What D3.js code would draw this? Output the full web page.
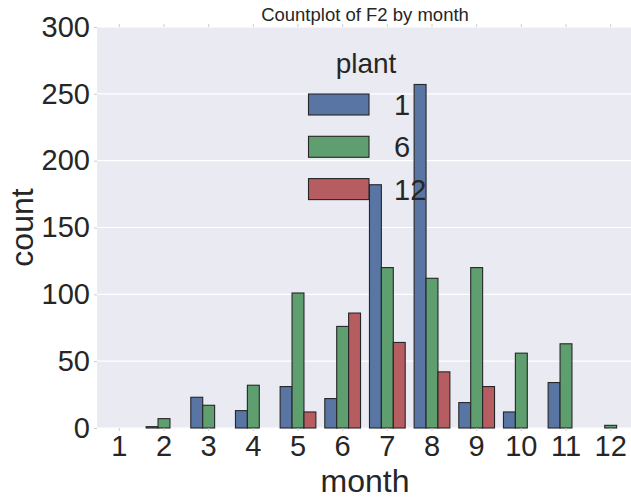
<!DOCTYPE html>
<html>
<head>
<meta charset="utf-8">
<script src="https://cdn.jsdelivr.net/npm/d3@7"></script>
<style>
  body { margin: 0; background: #fff; }
  svg { display: block; font-family: Arial, "Liberation Sans", sans-serif; }
</style>
</head>
<body>
<div id="chart-container"></div>
<script>
// Chart data
var months = ["1", "2", "3", "4", "5", "6", "7", "8", "9", "10", "11", "12"];
var plants = ["1", "6", "12"];
var plant1 = [0, 1, 23, 13, 31, 22, 182, 257, 19, 12, 34, 0];
var plant6 = [0, 7, 17, 32, 101, 76, 120, 112, 120, 56, 63, 2];
var plant12 = [0, 0, 0, 0, 12, 86, 64, 42, 31, 0, 0, 0];
var yTicks = [0, 50, 100, 150, 200, 250, 300];

var colors = ["#5975a4", "#5f9e6e", "#b55d60"];
var series = [plant1, plant6, plant12];

var width = 631, height = 499;
var plotLeft = 97, plotRight = 633, plotTop = 27, plotBottom = 428;

var svg = d3.select("#chart-container").append("svg")
  .attr("width", width)
  .attr("height", height);

// Scales
var x = d3.scaleBand().domain(months).range([plotLeft, plotRight]).paddingInner(0.2).paddingOuter(0.1);
var xInner = d3.scaleBand().domain(plants).range([0, x.bandwidth()]);
var y = d3.scaleLinear().domain([0, 300]).range([plotBottom, plotTop]);

// Background
svg.append("rect")
  .attr("x", plotLeft).attr("y", plotTop)
  .attr("width", plotRight - plotLeft).attr("height", plotBottom - plotTop)
  .attr("fill", "#eaeaf2");

// Grid lines
svg.append("g").selectAll("line")
  .data(yTicks)
  .join("line")
  .attr("x1", plotLeft).attr("x2", plotRight)
  .attr("y1", d => y(d)).attr("y2", d => y(d))
  .attr("stroke", "#fff").attr("stroke-width", 1.2);

// Bars
var barData = [];
months.forEach((m, i) => {
  plants.forEach((p, j) => {
    if (series[j][i] > 0) barData.push({ month: m, plant: p, value: series[j][i], color: colors[j] });
  });
});

svg.append("g").selectAll("rect")
  .data(barData)
  .join("rect")
  .attr("x", d => x(d.month) + xInner(d.plant))
  .attr("y", d => y(d.value))
  .attr("width", xInner.bandwidth())
  .attr("height", d => y(0) - y(d.value))
  .attr("fill", d => d.color)
  .attr("stroke", "#262626")
  .attr("stroke-width", 1.1);

// Y axis
var yAxis = d3.axisLeft(y).tickValues(yTicks).tickSize(3).tickPadding(4);
var gy = svg.append("g").attr("transform", `translate(${plotLeft},0)`).call(yAxis);
gy.select(".domain").remove();
gy.selectAll(".tick line").attr("stroke", "#cccccc");
gy.selectAll(".tick text").attr("font-size", 29).attr("fill", "#262626")
  .attr("font-family", "Arial, 'Liberation Sans', sans-serif");

// X axis
var xAxis = d3.axisBottom(x).tickSize(3).tickPadding(4);
var gx = svg.append("g").attr("transform", `translate(0,${plotBottom})`).call(xAxis);
gx.select(".domain").remove();
gx.selectAll(".tick line").attr("stroke", "#cccccc");
gx.selectAll(".tick text").attr("font-size", 29).attr("fill", "#262626")
  .attr("font-family", "Arial, 'Liberation Sans', sans-serif");

// Top ticks
svg.append("g").selectAll("line")
  .data(months)
  .join("line")
  .attr("x1", d => x(d) + x.bandwidth() / 2).attr("x2", d => x(d) + x.bandwidth() / 2)
  .attr("y1", plotTop - 3).attr("y2", plotTop)
  .attr("stroke", "#cccccc");

// Title and axis labels
svg.append("text")
  .attr("x", (plotLeft + plotRight) / 2).attr("y", 21)
  .attr("text-anchor", "middle")
  .attr("font-size", 18.5).attr("fill", "#262626")
  .text("Countplot of F2 by month");

svg.append("text")
  .attr("x", (plotLeft + plotRight) / 2).attr("y", 492)
  .attr("text-anchor", "middle")
  .attr("font-size", 32).attr("fill", "#262626")
  .text("month");

svg.append("text")
  .attr("transform", `translate(33,${(plotTop + plotBottom) / 2}) rotate(-90)`)
  .attr("text-anchor", "middle")
  .attr("font-size", 32).attr("fill", "#262626")
  .text("count");

// Legend
var legend = svg.append("g");
legend.append("text")
  .attr("x", 366).attr("y", 73)
  .attr("text-anchor", "middle")
  .attr("font-size", 28).attr("fill", "#262626")
  .text("plant");

var rows = legend.selectAll("g.row")
  .data(plants)
  .join("g")
  .attr("class", "row")
  .attr("transform", (d, i) => `translate(0,${94 + i * 42.3})`);

rows.append("rect")
  .attr("x", 308.5).attr("y", 0)
  .attr("width", 60.5).attr("height", 21)
  .attr("fill", (d, i) => colors[i])
  .attr("stroke", "#262626").attr("stroke-width", 1.1);

rows.append("text")
  .attr("x", 394).attr("y", 21)
  .attr("font-size", 29).attr("fill", "#262626")
  .text(d => d);
</script>
</body>
</html>
